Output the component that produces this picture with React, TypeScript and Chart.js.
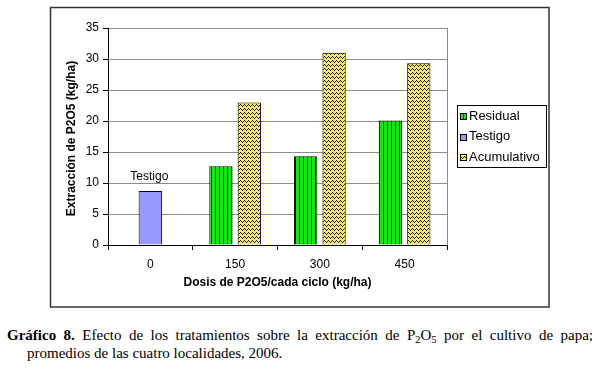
import React, { useEffect, useRef } from 'react';
import { Chart, registerables } from 'chart.js';

Chart.register(...registerables);

const categories = ['0', '150', '300', '450'];
const seriesNames = ['Residual', 'Testigo', 'Acumulativo'];
const residual = [null, 12.7, 14.3, 20.1];
const testigo = [8.7, null, null, null];
const acumulativo = [null, 23.0, 31.0, 29.3];
const yMin = 0;
const yMax = 35;
const yStep = 5;
const yTitle = 'Extracción de P2O5 (kg/ha)';
const xTitle = 'Dosis de P2O5/cada ciclo (kg/ha)';
const barNote = 'Testigo';

const SANS = '"Liberation Sans", Arial, sans-serif';

function makeStripe(): CanvasPattern | string {
  const c = document.createElement('canvas');
  c.width = 4;
  c.height = 4;
  const g = c.getContext('2d');
  if (!g) return '#00ee00';
  g.fillStyle = '#00f000';
  g.fillRect(0, 0, 4, 4);
  g.fillStyle = '#000000';
  g.fillRect(3, 0, 1, 4);
  return g.createPattern(c, 'repeat') || '#00ee00';
}

function makeZigzag(): CanvasPattern | string {
  const c = document.createElement('canvas');
  c.width = 4;
  c.height = 4;
  const g = c.getContext('2d');
  if (!g) return '#ffff00';
  g.fillStyle = '#ffff00';
  g.fillRect(0, 0, 4, 4);
  g.fillStyle = '#000000';
  const px = [[0, 0], [1, 1], [2, 2], [3, 1]];
  px.forEach(([x, y]) => g.fillRect(x, y, 1, 1));
  return g.createPattern(c, 'repeat') || '#ffff00';
}

export default function App() {
  const ref = useRef<HTMLCanvasElement | null>(null);

  useEffect(() => {
    if (!ref.current) return;
    const stripe = makeStripe();
    const zig = makeZigzag();
    const fills = [stripe, '#9999ff', zig];

    const decor = {
      id: 'decor',
      beforeDraw(chart: any) {
        const ctx = chart.ctx;
        ctx.save();
        ctx.fillStyle = '#ffffff';
        ctx.fillRect(0, 0, chart.width, chart.height);
        ctx.restore();
      },
      afterDraw(chart: any) {
        const ctx = chart.ctx;
        const a = chart.chartArea;
        ctx.save();
        // outer frame
        ctx.strokeStyle = '#333333';
        ctx.lineWidth = 1.5;
        ctx.strokeRect(50.5, 7.5, 498.5, 299.5);
        // plot right border
        ctx.strokeStyle = '#8c8c8c';
        ctx.lineWidth = 1;
        ctx.beginPath();
        ctx.moveTo(Math.round(a.right) + 0.5, a.top);
        ctx.lineTo(Math.round(a.right) + 0.5, a.bottom);
        ctx.stroke();
        // axis titles
        ctx.fillStyle = '#000000';
        ctx.font = `bold 12px ${SANS}`;
        ctx.textAlign = 'center';
        ctx.textBaseline = 'middle';
        ctx.fillText(xTitle, (a.left + a.right) / 2, 283);
        ctx.save();
        ctx.translate(72, (a.top + a.bottom) / 2 + 2);
        ctx.rotate(-Math.PI / 2);
        ctx.fillText(yTitle, 0, 0);
        ctx.restore();
        // note above Testigo bar
        const el = chart.getDatasetMeta(1).data[0];
        if (el) {
          ctx.font = `12px ${SANS}`;
          ctx.fillText(barNote, el.x - 1, el.y - 14);
        }
        // legend box
        const lx = 457, ly = 105, lw = 89, lh = 62;
        ctx.strokeStyle = '#000000';
        ctx.lineWidth = 1;
        ctx.fillStyle = '#ffffff';
        ctx.fillRect(lx, ly, lw, lh);
        ctx.strokeRect(lx + 0.5, ly + 0.5, lw, lh);
        ctx.font = `13px ${SANS}`;
        ctx.textAlign = 'left';
        ctx.textBaseline = 'middle';
        seriesNames.forEach((name, i) => {
          const cy = 116 + i * 20.5;
          ctx.fillStyle = fills[i] as any;
          ctx.fillRect(460, Math.round(cy) - 3, 7, 7);
          ctx.strokeStyle = '#000000';
          ctx.strokeRect(460.5, Math.round(cy) - 3 + 0.5, 6, 6);
          ctx.fillStyle = '#000000';
          ctx.fillText(name, 469, cy);
        });
        ctx.restore();
      },
    };

    const common = {
      borderColor: '#000000',
      borderWidth: 1,
      skipNull: true,
      categoryPercentage: 0.67,
      barPercentage: 0.82,
      maxBarThickness: 23.5,
    };

    const chart = new Chart(ref.current, {
      type: 'bar',
      data: {
        labels: categories,
        datasets: [
          { label: seriesNames[0], data: residual as any, backgroundColor: stripe as any, ...common },
          { label: seriesNames[1], data: testigo as any, backgroundColor: '#9999ff', ...common },
          { label: seriesNames[2], data: acumulativo as any, backgroundColor: zig as any, ...common },
        ],
      },
      options: {
        animation: false,
        responsive: false,
        events: [],
        layout: { padding: { left: 50, right: 153, top: 28, bottom: 22 } },
        plugins: {
          legend: { display: false },
          title: { display: false },
          tooltip: { enabled: false },
        },
        scales: {
          x: {
            offset: true,
            grid: {
              offset: true,
              drawOnChartArea: false,
              drawTicks: true,
              tickLength: 5,
              tickColor: '#000000',
            },
            border: { color: '#000000', width: 1 },
            ticks: { color: '#000000', font: { family: SANS, size: 12 }, padding: 7 },
            afterFit: (s: any) => { s.height = 45; },
          },
          y: {
            min: yMin,
            max: yMax,
            ticks: { stepSize: yStep, color: '#000000', font: { family: SANS, size: 12 }, padding: 4 },
            grid: { color: '#8c8c8c', tickColor: '#000000', tickLength: 5 },
            border: { color: '#000000', width: 1 },
            afterFit: (s: any) => { s.width = 58; },
          },
        },
      } as any,
      plugins: [decor],
    });
    return () => chart.destroy();
  }, []);

  const sub: React.CSSProperties = { fontSize: '0.7em', position: 'relative', top: '0.3em', lineHeight: 0 };

  return (
    <div style={{ position: 'absolute', left: 0, top: 0, width: 600, height: 368, background: '#fff' }}>
      <canvas ref={ref} width={600} height={312} style={{ position: 'absolute', left: 0, top: 0 }} />
      <div
        style={{
          position: 'absolute',
          left: 7,
          top: 326,
          width: 586,
          fontFamily: '"Liberation Serif", "Times New Roman", serif',
          fontSize: 15,
          lineHeight: '18px',
          textAlign: 'justify',
          paddingLeft: 20,
          textIndent: -20,
          boxSizing: 'border-box',
          color: '#000',
        }}
      >
        <b>Gráfico 8.</b>{' '}Efecto de los tratamientos sobre la extracción de P<span style={sub}>2</span>O<span style={sub}>5</span>{' '}por el cultivo de papa; promedios de las cuatro localidades, 2006.
      </div>
    </div>
  );
}
